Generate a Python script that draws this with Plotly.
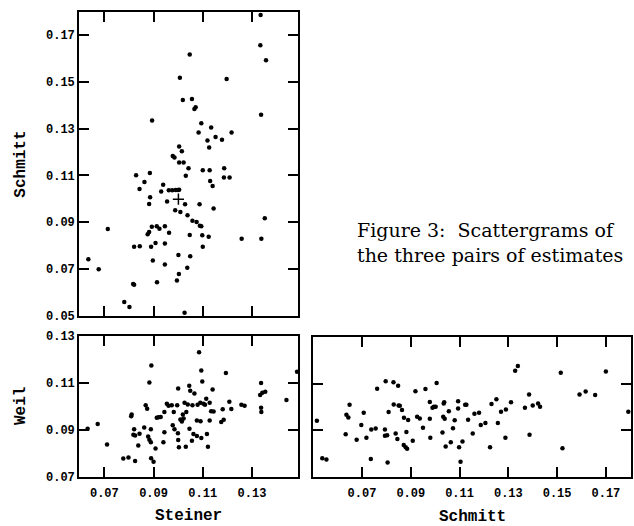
import plotly.graph_objects as go

# ---- Data: Steiner vs Schmitt (top panel) ----
steiner_a = [0.0635, 0.0677, 0.0714, 0.0781, 0.0802, 0.0817, 0.0821, 0.0821, 0.0829, 0.0843,
             0.0844, 0.0863, 0.0876, 0.0882, 0.0882, 0.0886, 0.0885, 0.0890, 0.0894, 0.0893,
             0.0897, 0.0908, 0.0913, 0.0914, 0.0924, 0.0931, 0.0939, 0.0946, 0.0946, 0.0946,
             0.0955, 0.0962, 0.0963, 0.0976, 0.0978, 0.0985, 0.0988, 0.0990, 0.0995, 0.0999,
             0.1004, 0.1004, 0.1004, 0.1001, 0.1003, 0.1007, 0.1009, 0.1015, 0.1019, 0.1022,
             0.1026, 0.1028, 0.1031, 0.1037, 0.1038, 0.1042, 0.1047, 0.1047, 0.1049, 0.1056,
             0.1058, 0.1066, 0.1071, 0.1075, 0.1083, 0.1087, 0.1088, 0.1094, 0.1094, 0.1098,
             0.1100, 0.1100, 0.1119, 0.1124, 0.1126, 0.1128, 0.1130, 0.1134, 0.1140, 0.1144,
             0.1152, 0.1178, 0.1186, 0.1187, 0.1197, 0.1209, 0.1217, 0.1258, 0.1335, 0.1334,
             0.1337, 0.1338, 0.1352, 0.1357]
schmitt_a = [0.0741, 0.0698, 0.0870, 0.0558, 0.0537, 0.0635, 0.0632, 0.0794, 0.1101, 0.1042,
             0.0797, 0.1072, 0.0848, 0.0858, 0.0977, 0.1006, 0.1110, 0.0794, 0.1335, 0.0880,
             0.0736, 0.0811, 0.0882, 0.0643, 0.0872, 0.1031, 0.1060, 0.0808, 0.0882, 0.0718,
             0.0988, 0.1036, 0.0854, 0.1036, 0.1183, 0.1177, 0.0951, 0.1037, 0.0650, 0.1037,
             0.1224, 0.1038, 0.1155, 0.0759, 0.0678, 0.1518, 0.0943, 0.1203, 0.1423, 0.1155,
             0.0512, 0.0976, 0.1098, 0.0705, 0.0929, 0.1131, 0.1617, 0.0845, 0.0754, 0.1427,
             0.0906, 0.1384, 0.1392, 0.0900, 0.1284, 0.0976, 0.0884, 0.0882, 0.1323, 0.0844,
             0.1122, 0.0794, 0.1249, 0.0837, 0.1219, 0.1122, 0.1076, 0.1305, 0.1054, 0.0958,
             0.1264, 0.1252, 0.1091, 0.1131, 0.1513, 0.1091, 0.1284, 0.0829, 0.1787, 0.1657,
             0.1359, 0.0829, 0.0916, 0.1593]
# overlapping points drawn as a "+" in the original
plus_steiner = [0.1001]
plus_schmitt = [0.0998]

# ---- Data: Steiner vs Weil (bottom-left panel) ----
steiner_b = [0.0632, 0.0673, 0.0711, 0.0777, 0.0798, 0.0825, 0.0809, 0.0811, 0.0821, 0.0818,
             0.0825, 0.0843, 0.0838, 0.0862, 0.0868, 0.0874, 0.0878, 0.0883, 0.0883, 0.0891,
             0.0889, 0.0889, 0.0890, 0.0900, 0.0908, 0.0913, 0.0920, 0.0929, 0.0940, 0.0944,
             0.0944, 0.0954, 0.0961, 0.0974, 0.0978, 0.0985, 0.0982, 0.0996, 0.1000, 0.0999,
             0.1000, 0.1003, 0.1009, 0.1015, 0.1019, 0.1022, 0.1031, 0.1026, 0.1033, 0.1039,
             0.1045, 0.1049, 0.1046, 0.1056, 0.1058, 0.1066, 0.1062, 0.1076, 0.1076, 0.1079,
             0.1085, 0.1090, 0.1091, 0.1094, 0.1094, 0.1098, 0.1103, 0.1109, 0.1114, 0.1117,
             0.1121, 0.1128, 0.1128, 0.1134, 0.1144, 0.1140, 0.1181, 0.1175, 0.1185, 0.1194,
             0.1208, 0.1216, 0.1257, 0.1270, 0.1337, 0.1333, 0.1342, 0.1354, 0.1337, 0.1338,
             0.1440, 0.1483]
weil_b = [0.0906, 0.0926, 0.0839, 0.0779, 0.0783, 0.0769, 0.0959, 0.0966, 0.0904, 0.0880,
          0.0877, 0.0884, 0.0834, 0.0911, 0.1005, 0.0991, 0.0873, 0.0859, 0.1102, 0.1175,
          0.0904, 0.0848, 0.0780, 0.0765, 0.0822, 0.0952, 0.0954, 0.0956, 0.0848, 0.0891,
          0.0977, 0.1012, 0.1003, 0.1005, 0.0920, 0.0904, 0.0977, 0.1005, 0.1077, 0.0887,
          0.0858, 0.0827, 0.0945, 0.0936, 0.0966, 0.0949, 0.0829, 0.1016, 0.0977, 0.1009,
          0.1088, 0.1067, 0.0906, 0.0855, 0.1005, 0.1056, 0.0883, 0.0875, 0.0941, 0.1008,
          0.1231, 0.1016, 0.0938, 0.0866, 0.1153, 0.1106, 0.1012, 0.1008, 0.1033, 0.0883,
          0.0829, 0.1016, 0.0941, 0.0980, 0.0979, 0.1073, 0.0988, 0.0934, 0.0944, 0.1143,
          0.1020, 0.0990, 0.1008, 0.1003, 0.1100, 0.1049, 0.1059, 0.1063, 0.0995, 0.0977,
          0.1028, 0.1148]

# ---- Data: Schmitt vs Weil (bottom-right panel) ----
schmitt_c = [0.0515, 0.0537, 0.0554, 0.0633, 0.0636, 0.0644, 0.0649, 0.0678, 0.0697, 0.0707,
             0.0718, 0.0736, 0.0738, 0.0756, 0.0762, 0.0794, 0.0794, 0.0803, 0.0797, 0.0805,
             0.0809, 0.0829, 0.0830, 0.0838, 0.0845, 0.0848, 0.0850, 0.0855, 0.0864, 0.0871,
             0.0872, 0.0879, 0.0882, 0.0885, 0.0889, 0.0908, 0.0919, 0.0926, 0.0937, 0.0950,
             0.0960, 0.0978, 0.0978, 0.0980, 0.0989, 0.0995, 0.1002, 0.1006, 0.1030, 0.1033,
             0.1035, 0.1037, 0.1039, 0.1043, 0.1056, 0.1064, 0.1073, 0.1080, 0.1094, 0.1094,
             0.1098, 0.1104, 0.1112, 0.1123, 0.1128, 0.1135, 0.1154, 0.1161, 0.1180, 0.1187,
             0.1206, 0.1225, 0.1231, 0.1251, 0.1257, 0.1270, 0.1288, 0.1290, 0.1311, 0.1328,
             0.1339, 0.1368, 0.1385, 0.1387, 0.1400, 0.1422, 0.1430, 0.1515, 0.1522, 0.1592,
             0.1617, 0.1656, 0.1700, 0.1792]
weil_c = [0.0941, 0.0781, 0.0775, 0.0884, 0.0967, 0.0955, 0.1010, 0.0860, 0.0923, 0.0975,
          0.0869, 0.0778, 0.0904, 0.0908, 0.1078, 0.0904, 0.0877, 0.0879, 0.1110, 0.0763,
          0.0979, 0.1106, 0.1011, 0.0887, 0.0863, 0.1091, 0.1007, 0.1006, 0.0987, 0.0837,
          0.0954, 0.0828, 0.0893, 0.0821, 0.0944, 0.0856, 0.1068, 0.0958, 0.0951, 0.0911,
          0.1077, 0.1022, 0.0950, 0.0869, 0.0997, 0.1001, 0.1001, 0.1103, 0.0891, 0.0958,
          0.1015, 0.1020, 0.0950, 0.0831, 0.0982, 0.0849, 0.0909, 0.0943, 0.1025, 0.0994,
          0.0828, 0.0766, 0.0852, 0.1010, 0.1010, 0.0946, 0.0887, 0.0971, 0.0976, 0.0923,
          0.0932, 0.0828, 0.1013, 0.1033, 0.0932, 0.0980, 0.0869, 0.0989, 0.1020, 0.1155,
          0.1176, 0.0997, 0.1054, 0.0881, 0.1007, 0.1015, 0.1001, 0.1147, 0.0824, 0.1054,
          0.1067, 0.1052, 0.1152, 0.0980]

steiner_ticks = [0.07, 0.09, 0.11, 0.13]
schmitt_ticks = [0.05, 0.07, 0.09, 0.11, 0.13, 0.15, 0.17]
weil_ticks = [0.07, 0.09, 0.11, 0.13]

W, H = 634, 526
def px_x(a, b):
    return [a / W, b / W]
def px_y(top, bottom):
    return [1 - bottom / H, 1 - top / H]

mono = "Liberation Mono"
tickfont = dict(family=mono, size=12, color="black", weight="bold")

marker = dict(color="black", size=4.5)
fig = go.Figure()
fig.add_trace(go.Scatter(x=steiner_a, y=schmitt_a, mode="markers", marker=marker,
                         xaxis="x", yaxis="y", showlegend=False))
fig.add_trace(go.Scatter(x=plus_steiner, y=plus_schmitt, mode="markers",
                         marker=dict(symbol="cross-thin", size=8, line=dict(color="black", width=1.5)),
                         xaxis="x", yaxis="y", showlegend=False))
fig.add_trace(go.Scatter(x=steiner_b, y=weil_b, mode="markers", marker=marker,
                         xaxis="x2", yaxis="y2", showlegend=False))
fig.add_trace(go.Scatter(x=schmitt_c, y=weil_c, mode="markers", marker=marker,
                         xaxis="x3", yaxis="y3", showlegend=False))

def ax(**kw):
    base = dict(showline=True, linecolor="black", linewidth=1.6, mirror="allticks",
                ticks="inside", ticklen=10, tickwidth=1.6, tickcolor="black",
                showgrid=False, zeroline=False, tickfont=tickfont, tickformat=".2f")
    base.update(kw)
    return base

fig.update_layout(
    width=W, height=H,
    margin=dict(l=0, r=0, t=0, b=0),
    paper_bgcolor="white", plot_bgcolor="white",
    xaxis=ax(domain=px_x(79, 298), range=[0.0597, 0.1487], tickvals=steiner_ticks,
             showticklabels=False, anchor="y"),
    yaxis=ax(domain=px_y(6, 318), range=[0.05, 0.18], tickvals=schmitt_ticks, anchor="x"),
    xaxis2=ax(domain=px_x(79, 298), range=[0.0597, 0.1487], tickvals=steiner_ticks, anchor="y2",
              ticklabelstandoff=4),
    yaxis2=ax(domain=px_y(339, 484), range=[0.07, 0.13], tickvals=weil_ticks, anchor="x2"),
    xaxis3=ax(domain=px_x(313, 631), range=[0.0499, 0.1803], tickvals=schmitt_ticks[1:], anchor="y3",
              ticklabelstandoff=4),
    yaxis3=ax(domain=px_y(340, 484), range=[0.07, 0.13], tickvals=weil_ticks,
              showticklabels=False, anchor="x3"),
)

titlefont = dict(family=mono, size=16, color="black")
annotations = [
    dict(text="<b>Schmitt</b>", x=21 / W, y=1 - 163 / H, textangle=-90),
    dict(text="<b>Weil</b>", x=21 / W, y=1 - 411 / H, textangle=-90),
    dict(text="<b>Steiner</b>", x=188 / W, y=1 - 524 / H, textangle=0),
    dict(text="<b>Schmitt</b>", x=472 / W, y=1 - 525 / H, textangle=0),
]
for a in annotations:
    fig.add_annotation(xref="paper", yref="paper", showarrow=False, font=titlefont,
                       xanchor="center", yanchor="middle", **a)

fig.add_annotation(xref="paper", yref="paper", x=355 / W, y=1 - 243 / H, showarrow=False,
                   xanchor="left", yanchor="middle", align="left",
                   text="Figure 3:  Scattergrams of<br>the three pairs of estimates",
                   font=dict(family="DejaVu Serif", size=19, color="black"))

fig.write_html("out.html")
